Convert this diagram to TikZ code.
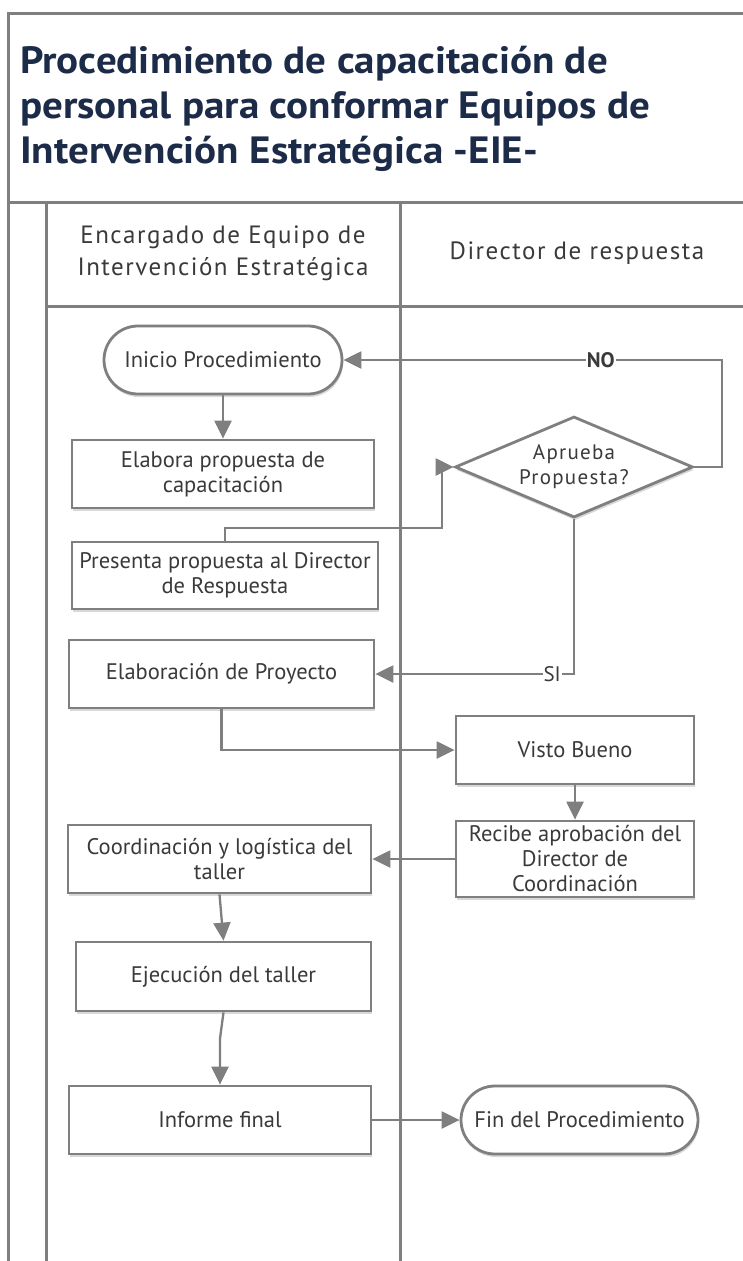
\documentclass[tikz,border=0pt]{standalone}
\usepackage{fontspec}
\setmainfont{PT Sans}
\newfontfamily\headfont[LetterSpace=6]{PT Sans}
\newfontfamily\titlefont[FakeStretch=1.08]{PT Sans}
\usetikzlibrary{arrows.meta,shapes.geometric,shadows}

\definecolor{linegray}{HTML}{7F7F7F}
\definecolor{txtgray}{HTML}{3A3A3A}
\definecolor{titleblue}{HTML}{1C2B48}

\tikzset{
	lane/.style={draw=linegray, line width=3pt},
	shade/.style={drop shadow={shadow xshift=1pt, shadow yshift=-3pt, opacity=.25, fill=black!60}},
	task/.style={draw=linegray, line width=2.8pt, fill=white, text=txtgray, align=center,
		inner sep=1pt, minimum height=68pt, font=\fontsize{22.5}{25}\selectfont, shade},
	term/.style={task, rounded corners=34pt},
	decision/.style={task, diamond, aspect=2.36, minimum width=238pt, minimum height=101pt,
		inner sep=0pt, font=\headfont\fontsize{21}{25}\selectfont},
	flow/.style={draw=linegray, line width=2.3pt, -{Triangle[length=18pt,width=17pt]}},
	lbl/.style={fill=white, inner sep=1pt, text=txtgray, font=\fontsize{21}{22}\selectfont},
}

\begin{document}
\begin{tikzpicture}[x=1pt, y=-1pt]
	\useasboundingbox (0,0) rectangle (743,1261);
	\begin{scope}
	\clip (0,0) rectangle (743,1261);
	\fill[white] (0,0) rectangle (743,1261);
	\draw[lane] (8,1300) -- (8,13) -- (770,13);
	\draw[lane] (8,202) -- (770,202);
	\draw[lane] (46,1300) -- (46,202);
	\draw[lane] (400,1300) -- (400,202);
	\draw[lane] (46,306) -- (770,306);
	\end{scope}

	\node[anchor=north west, align=left, text=titleblue, inner sep=0pt,
		font=\titlefont\fontsize{38}{45}\selectfont\bfseries] (titulo) at (20,46)
		{Procedimiento de capacitación de\\personal para conformar Equipos de\\Intervención Estratégica -EIE-};
	\node[align=center, text=txtgray, font=\headfont\fontsize{25}{32}\selectfont] (carril1) at (223,253)
		{Encargado de Equipo de\\Intervención Estratégica};
	\node[text=txtgray, font=\headfont\fontsize{25}{32}\selectfont] (carril2) at (577,253)
		{Director de respuesta};

	% carril del encargado
	\node[term, minimum width=238pt] (inicio) at (223,360) {Inicio Procedimiento};
	\node[task, minimum width=302pt] (elabora) at (223,474) {Elabora propuesta de\\capacitación};
	\node[task, minimum width=306pt, minimum height=67pt] (presenta) at (225,575.5) {Presenta propuesta al Director\\de Respuesta};
	\node[task, minimum width=305pt] (proyecto) at (221.5,674) {Elaboración de Proyecto};
	\node[task, minimum width=303pt] (coord) at (219.5,859) {Coordinación y logística del\\taller};
	\node[task, minimum width=295pt, minimum height=69pt] (ejec) at (223.5,976.5) {Ejecución del taller};
	\node[task, minimum width=302pt] (informe) at (220,1120) {Informe final};

	% carril del director
	\node[decision] (aprueba) at (574,467) {Aprueba\\Propuesta?};
	\node[task, minimum width=238pt] (visto) at (575,750) {Visto Bueno};
	\node[task, minimum width=238pt, minimum height=76pt] (recibe) at (575,859) {Recibe aprobación del\\Director de\\Coordinación};
	\node[term, minimum width=237pt] (fin) at (579.5,1120) {Fin del Procedimiento};

	\coordinate (subida) at (442,528);
	\coordinate (vuelta) at (722,360);

	\draw[flow] (inicio) -- (elabora);
	\draw[flow] (presenta.north) |- (subida) |- (aprueba.west);
	\draw[flow] (aprueba.east) -| (vuelta) -- node[lbl, pos=.32, font=\fontsize{21}{22}\selectfont\bfseries] {NO} (inicio.east);
	\draw[flow] (aprueba.south) |- node[lbl, pos=.555] {SI} (proyecto.east);
	\draw[flow] (proyecto.south) |- (visto.west);
	\draw[flow] (visto) -- (recibe);
	\draw[flow] (recibe) -- (coord);
	\draw[flow] (coord.south) -- (ejec.north);
	\draw[flow] (ejec.south) -- ([yshift=46pt]informe.north) -- (informe.north);
	\draw[flow] (informe) -- (fin);
\end{tikzpicture}
\end{document}
